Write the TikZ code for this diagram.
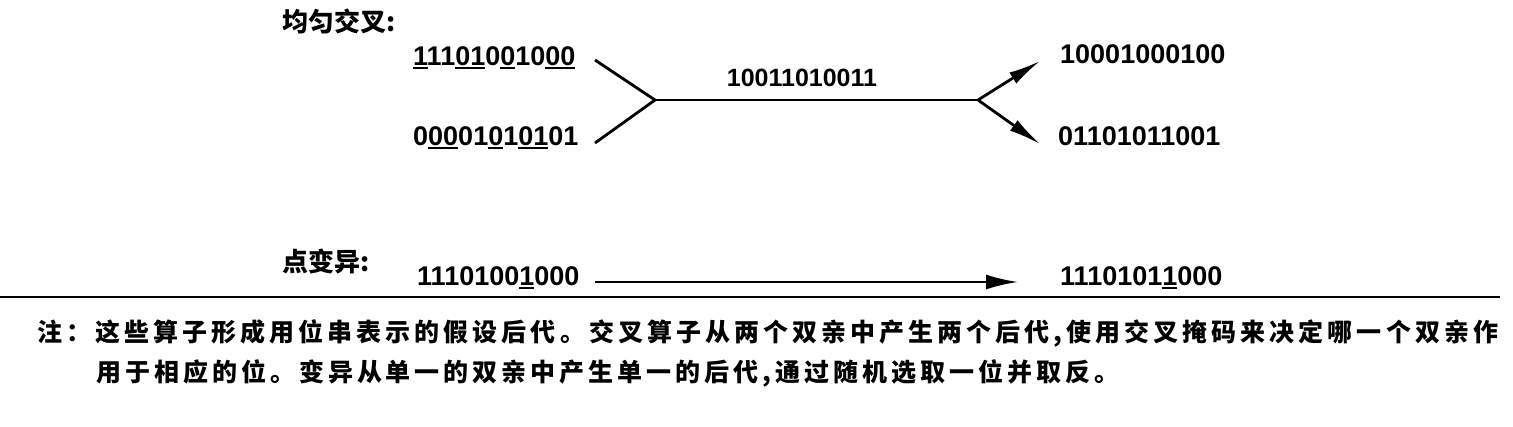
\documentclass[tikz,border=0pt]{standalone}
\usepackage{fontspec}
\setmainfont{Liberation Sans}
\newfontfamily\cjk{Noto Sans CJK SC}
\usetikzlibrary{arrows.meta}
\makeatletter
\def\spreadtext#1{\sp@first#1\sp@end}
\def\sp@first#1{#1\sp@rest}
\def\sp@rest#1{\ifx#1\sp@end\else\hfill#1\expandafter\sp@rest\fi}
\def\sp@end{}
\makeatother
\newcommand\ud[1]{\rlap{\rule[-3.5pt]{.556em}{2pt}}#1}
\tikzset{
  bits/.style={inner sep=0pt, anchor=base west, font=\fontsize{27}{27}\selectfont\bfseries},
  maskbits/.style={inner sep=0pt, anchor=base, font=\fontsize{25}{25}\selectfont\bfseries},
  label/.style={inner sep=0pt, anchor=base west, font=\cjk\bfseries\fontsize{26}{26}\selectfont},
  note/.style={inner sep=0pt, anchor=base west, font=\cjk\bfseries\fontsize{25}{25}\selectfont},
  link/.style={line width=2.8pt},
  arr/.style={line width=2.8pt, -{Latex[length=32pt,width=13pt]}},
  marr/.style={line width=2.4pt, -{Latex[length=32pt,width=15pt]}},
}
\begin{document}
\begin{tikzpicture}[x=1pt,y=-1pt]
\useasboundingbox (0,0) rectangle (1513,426);
% uniform crossover
\node[label] (t1) at (282,31) {均匀交叉:};
\node[bits] (p1) at (413,65) {\ud{1}11\ud{0}\ud{1}0\ud{0}10\ud{0}\ud{0}};
\node[bits] (p2) at (413,145) {0\ud{0}\ud{0}01\ud{0}1\ud{0}\ud{1}01};
\node[maskbits] (mask) at (802,86) {10011010011};
\node[bits] (o1) at (1060,63) {10001000100};
\node[bits] (o2) at (1058,145) {01101011001};
\coordinate (p1e) at (595,60);
\coordinate (p2e) at (595,143);
\coordinate (j1) at (655,100);
\coordinate (j2) at (978,100);
\coordinate (o1e) at (1040,61);
\coordinate (o2e) at (1040,144);
\draw[link, line join=miter] (p1e) -- (j1) -- (p2e);
\draw[link] (j1) -- (j2);
\draw[arr] (j2) -- (o1e);
\draw[arr] (j2) -- (o2e);
% point mutation
\node[label] (t2) at (282,271) {点变异:};
\node[bits] (m1) at (417,285) {1110100\ud{1}000};
\node[bits] (m2) at (1060,285) {1110101\ud{1}000};
\coordinate (m1e) at (595,282);
\coordinate (m2e) at (1018,282);
\draw[marr] (m1e) -- (m2e);
% rule
\coordinate (r1) at (0,297);
\coordinate (r2) at (1500,297);
\draw[line width=2.6pt] (r1) -- (r2);
% note
\node[note] (n1) at (37,341) {\makebox[1461pt][s]{\spreadtext{注：这些算子形成用位串表示的假设后代。交叉算子从两个双亲中产生两个后代,使用交叉掩码来决定哪一个双亲作}}};
\node[note] (n2) at (96,381) {\makebox[1023pt][s]{\spreadtext{用于相应的位。变异从单一的双亲中产生单一的后代,通过随机选取一位并取反。}}};
\end{tikzpicture}
\end{document}
